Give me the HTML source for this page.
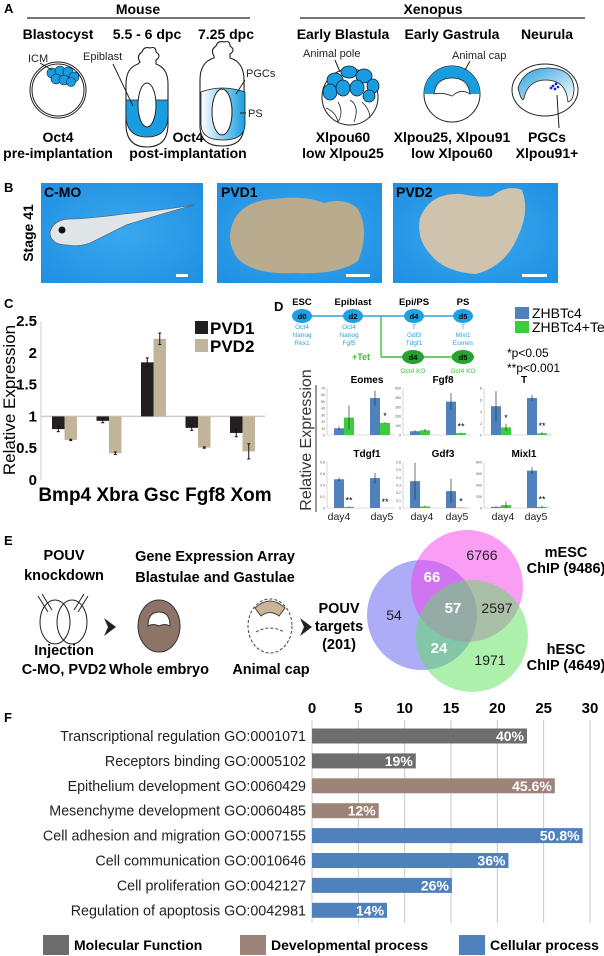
<!DOCTYPE html>
<html><head><meta charset="utf-8">
<style>
html,body{margin:0;padding:0;background:#fff;}
svg{display:block;font-family:"Liberation Sans",Arial,sans-serif;}
.b{font-weight:bold;}
</style></head>
<body>
<svg id="fig" width="604" height="956" viewBox="0 0 604 956" xmlns="http://www.w3.org/2000/svg">
<defs>
<linearGradient id="gPS" x1="0" y1="0" x2="1" y2="0"><stop offset="0" stop-color="#fff"/><stop offset="1" stop-color="#1a9de0"/></linearGradient>
<linearGradient id="gNeu" x1="0" y1="0" x2="1" y2="1"><stop offset="0" stop-color="#2aa0e0"/><stop offset="1" stop-color="#fff"/></linearGradient>
<radialGradient id="gPhoto" cx="0.5" cy="0.5" r="0.7"><stop offset="0" stop-color="#3aa8f0"/><stop offset="1" stop-color="#1f8fe0"/></radialGradient>
</defs>

<!-- Panel A -->
<g>
<text x="4" y="13" font-size="13" class="b">A</text>
<text x="138" y="14" font-size="14" class="b" text-anchor="middle">Mouse</text>
<line x1="27" y1="18" x2="250" y2="18" stroke="#222" stroke-width="1.2"/>
<text x="433" y="14" font-size="14" class="b" text-anchor="middle">Xenopus</text>
<line x1="300" y1="18" x2="585" y2="18" stroke="#222" stroke-width="1.2"/>
<g font-size="14" class="b" text-anchor="middle">
<text x="58" y="39">Blastocyst</text><text x="147" y="39">5.5 - 6 dpc</text><text x="226" y="39">7.25 dpc</text>
<text x="343" y="39">Early Blastula</text><text x="452" y="39">Early Gastrula</text><text x="547" y="39">Neurula</text>
<text x="58" y="142">Oct4</text><text x="58" y="158">pre-implantation</text>
<text x="188" y="142">Oct4</text><text x="188" y="158">post-implantation</text>
<text x="343" y="142">Xlpou60</text><text x="343" y="158">low Xlpou25</text>
<text x="452" y="142">Xlpou25, Xlpou91</text><text x="452" y="158">low Xlpou60</text>
<text x="547" y="142">PGCs</text><text x="547" y="158">Xlpou91+</text>
</g>
<g font-size="11" fill="#222">
<text x="28" y="62">ICM</text><text x="83" y="60">Epiblast</text><text x="246" y="77">PGCs</text><text x="248" y="117">PS</text>
<text x="303" y="57">Animal pole</text><text x="452" y="59">Animal cap</text>
</g>
<ellipse cx="58" cy="90" rx="28" ry="28" fill="none" stroke="#222" stroke-width="1"/>
<ellipse cx="58" cy="90" rx="26" ry="26" fill="#fff" stroke="#222" stroke-width="1"/>
<g fill="#1a9de0" stroke="#124" stroke-width="0.6">
<circle cx="52" cy="73" r="5"/><circle cx="60" cy="71" r="5"/><circle cx="68" cy="72" r="5"/><circle cx="74" cy="77" r="5"/><circle cx="56" cy="79" r="5"/><circle cx="64" cy="80" r="5"/><circle cx="71" cy="82" r="4.5"/>
</g>
<line x1="40" y1="63" x2="52" y2="70" stroke="#222"/>
<path d="M140,62 q-4,-6 2,-10 q2,-6 8,-4 q6,-2 6,4 q6,4 0,8 l0,4 q12,4 12,20 l0,40 q0,23 -21,23 q-21,0 -21,-23 l0,-40 q0,-16 12,-20 z" fill="#fff" stroke="#222" stroke-width="1.1"/>
<path d="M126,100 l42,0 l0,15 q0,22 -21,22 q-21,0 -21,-22 z" fill="#1a9de0" stroke="#222" stroke-width="0.8"/>
<ellipse cx="147" cy="105" rx="9" ry="22" fill="#fff" stroke="#222"/>
<line x1="113" y1="64" x2="133" y2="106" stroke="#222"/>
<path d="M214,56 q-4,-6 2,-10 q2,-6 8,-4 q6,-2 6,4 q6,4 0,8 l0,4 q14,4 14,22 l0,46 q0,20 -22,20 q-22,0 -22,-20 l0,-46 q0,-18 14,-22 z" fill="#fff" stroke="#222" stroke-width="1.1"/>
<path d="M201,92 q21,-8 44,0 l0,32 q0,16 -22,16 q-22,0 -22,-16 z" fill="url(#gPS)" stroke="#222" stroke-width="0.8"/>
<ellipse cx="222" cy="112" rx="10" ry="23" fill="#fff" stroke="#222"/>
<line x1="245" y1="80" x2="236" y2="94" stroke="#222"/><line x1="246" y1="113" x2="240" y2="113" stroke="#222"/>
<circle cx="350" cy="97" r="28" fill="#fff" stroke="#222"/>
<g fill="#1a9de0" stroke="#123" stroke-width="0.8">
<ellipse cx="335" cy="80" rx="8" ry="7"/><ellipse cx="349" cy="72" rx="8" ry="6"/><ellipse cx="364" cy="76" rx="8" ry="7"/><ellipse cx="373" cy="86" rx="6" ry="7"/>
<ellipse cx="330" cy="92" rx="7" ry="8"/><ellipse cx="343" cy="88" rx="7" ry="8"/><ellipse cx="357" cy="88" rx="7" ry="8"/><ellipse cx="369" cy="96" rx="6" ry="6"/>
</g>
<g fill="none" stroke="#222" stroke-width="0.8"><path d="M326,108 q10,4 12,14 M338,102 q6,10 0,20 M350,100 q10,6 4,22 M362,102 q8,8 8,16"/></g>
<line x1="335" y1="60" x2="340" y2="72" stroke="#222"/>
<circle cx="452" cy="94" r="28" fill="#fff" stroke="#222"/>
<path d="M424,94 a28,28 0 0 1 56,0 l-10,0 q-2,-12 -18,-14 q-16,2 -18,14 z" fill="#1a9de0"/>
<path d="M434,94 q2,-16 18,-16 q16,0 18,16 q-9,-6 -18,2 q-10,-4 -18,-2 z" fill="#fff" stroke="#222" stroke-width="0.8"/>
<line x1="470" y1="61" x2="465" y2="70" stroke="#222"/>
<ellipse cx="545" cy="90" rx="33" ry="26" fill="#fff" stroke="#222"/>
<path d="M518,88 q6,-20 30,-20 q24,0 26,20 q0,12 -6,14 q-2,-22 -22,-22 q-18,0 -22,18 q-2,6 -6,-10 z" fill="url(#gNeu)" stroke="#222" stroke-width="0.8"/>
<g fill="#0a2bd0"><circle cx="553" cy="86" r="1.4"/><circle cx="556" cy="84" r="1.4"/><circle cx="555" cy="89" r="1.4"/><circle cx="551" cy="88" r="1.4"/><circle cx="558" cy="87" r="1.3"/></g>
<line x1="557" y1="95" x2="559" y2="128" stroke="#222"/>
</g>

<!-- Panel B -->
<g>
<text x="4" y="192" font-size="13" class="b">B</text>
<text transform="translate(33,233) rotate(-90)" font-size="14" class="b" text-anchor="middle">Stage 41</text>
<rect x="41" y="183" width="162" height="100" fill="url(#gPhoto)"/>
<rect x="217" y="183" width="165" height="100" fill="url(#gPhoto)"/>
<rect x="393" y="183" width="165" height="100" fill="url(#gPhoto)"/>
<path d="M50,232 q4,-14 24,-13 q20,-1 50,-5 q40,-4 70,-9 q-30,8 -68,20 q-20,10 -36,18 q-12,4 -22,2 q-18,0 -18,-13 z" fill="#e0e6e8" stroke="#555" stroke-width="0.6"/>
<circle cx="62" cy="230" r="3.5" fill="#111"/>
<path d="M232,225 q8,-24 42,-26 q30,-4 50,4 q22,-6 34,6 q12,22 0,52 q-20,14 -62,12 q-42,2 -58,-14 q-12,-16 -6,-34 z" fill="#b9ab8e"/>
<path d="M420,218 q10,-26 42,-24 q18,4 30,2 q16,-12 30,-6 q8,22 -4,46 q-12,30 -42,38 q-32,-2 -46,-20 q-14,-16 -10,-36 z" fill="#cfc3ad"/>
<g font-size="14" class="b"><text x="44" y="197">C-MO</text><text x="221" y="197">PVD1</text><text x="396" y="197">PVD2</text></g>
<g fill="#fff"><rect x="176" y="274" width="12" height="3"/><rect x="346" y="274" width="24" height="3"/><rect x="522" y="274" width="25" height="3"/></g>
</g>

<!-- Panel C -->
<g id="panelC">
<text x="4" y="308" font-size="13" class="b">C</text>
<text transform="translate(15,400) rotate(-90)" font-size="17" text-anchor="middle">Relative Expression</text>
</g>

<!-- Panel D -->
<g id="panelD">
<text x="274" y="311" font-size="13" class="b">D</text>
<g font-size="9.5" class="b" text-anchor="middle"><text x="302" y="305">ESC</text><text x="353" y="305">Epiblast</text><text x="414" y="305">Epi/PS</text><text x="463" y="305">PS</text></g>
<line x1="302" y1="316" x2="455" y2="316" stroke="#29a3dd" stroke-width="1.6"/>
<polygon points="455,313 455,319 460,316" fill="#29a3dd"/>
<line x1="381" y1="316" x2="381" y2="357" stroke="#3ac13a" stroke-width="1.4"/>
<line x1="381" y1="357" x2="455" y2="357" stroke="#3ac13a" stroke-width="1.4"/>
<polygon points="452,354 452,360 458,357" fill="#3ac13a"/>
<g fill="#1fa0e0"><ellipse cx="302" cy="316" rx="10" ry="7"/><ellipse cx="353" cy="316" rx="10" ry="7"/><ellipse cx="414" cy="316" rx="10" ry="7"/><ellipse cx="463" cy="316" rx="10" ry="7"/></g>
<g fill="#27a12f"><ellipse cx="413" cy="357" rx="11" ry="7"/><ellipse cx="463" cy="357" rx="11" ry="7"/></g>
<g font-size="7.5" class="b" fill="#000" text-anchor="middle"><text x="302" y="319">d0</text><text x="353" y="319">d2</text><text x="414" y="319">d4</text><text x="463" y="319">d5</text><text x="413" y="360">d4</text><text x="463" y="360">d5</text></g>
<g font-size="6.5" fill="#29a3dd" text-anchor="middle">
<text x="302" y="329">Oct4</text><text x="302" y="337">Nanog</text><text x="302" y="345">Rex1</text>
<text x="349" y="329">Oct4</text><text x="349" y="337">Nanog</text><text x="349" y="345">Fgf5</text>
<text x="414" y="329">T</text><text x="414" y="337">Gdf3</text><text x="414" y="345">Tdgf1</text>
<text x="463" y="329">T</text><text x="463" y="337">Mixl1</text><text x="463" y="345">Eomes</text>
</g>
<text x="361" y="360" font-size="9" class="b" fill="#3ac13a" text-anchor="middle">+Tet</text>
<g font-size="6.5" fill="#3ac13a" text-anchor="middle"><text x="413" y="373">Oct4 KO</text><text x="463" y="373">Oct4 KO</text></g>
<rect x="515" y="307" width="14" height="12" fill="#4f81bd"/>
<text x="532" y="318" font-size="14">ZHBTc4</text>
<rect x="515" y="321" width="14" height="12" fill="#3ccc3c"/>
<text x="532" y="332" font-size="14">ZHBTc4+Tet</text>
<text x="507" y="357" font-size="12">*p&lt;0.05</text>
<text x="507" y="372" font-size="12">**p&lt;0.001</text>
<text transform="translate(311,440) rotate(-90)" font-size="16" fill="#333" text-anchor="middle">Relative Expression</text>
<line x1="316" y1="385" x2="316" y2="512" stroke="#333" stroke-width="1"/>
</g>

<!-- Panel E -->
<g>
<text x="4" y="545" font-size="13" class="b">E</text>
<g font-size="14.5" class="b" text-anchor="middle">
<text x="64" y="560">POUV</text><text x="64" y="580">knockdown</text>
<text x="215" y="561">Gene Expression Array</text><text x="215" y="582">Blastulae and Gastulae</text>
<text x="64" y="655">Injection</text><text x="64" y="674">C-MO, PVD2</text>
<text x="159" y="674">Whole embryo</text><text x="271" y="674">Animal cap</text>
<text x="339" y="613">POUV</text><text x="339" y="631">targets</text><text x="339" y="649">(201)</text>
<text x="566" y="557">mESC</text><text x="566" y="573">ChIP (9486)</text>
<text x="566" y="654">hESC</text><text x="566" y="670">ChIP (4649)</text>
</g>
<g fill="none" stroke="#222" stroke-width="1"><ellipse cx="55" cy="622" rx="15" ry="22"/><ellipse cx="72" cy="622" rx="15" ry="22"/>
<path d="M38,596 l10,16 M42,594 l10,16 M88,596 l-10,16 M84,594 l-10,16"/></g>
<polygon points="104,618 116,627 104,636 108,627" fill="#222"/>
<ellipse cx="159" cy="626" rx="21" ry="26" fill="#8c7567" stroke="#333"/>
<path d="M148,626 q0,-14 11,-14 q11,0 11,14 q-5,-3 -11,0 q-6,-3 -11,0 z" fill="#fff" stroke="#333"/>
<ellipse cx="270" cy="626" rx="22" ry="27" fill="none" stroke="#444" stroke-dasharray="3,2"/>
<path d="M255,608 q15,-14 30,0 l-6,8 q-9,-7 -18,0 z" fill="#c9b697" stroke="#444"/>
<path d="M256,632 q14,-8 28,0" fill="none" stroke="#444" stroke-dasharray="3,2"/>
<polygon points="300,618 312,627 300,636 304,627" fill="#222"/>
<g>
<circle cx="422" cy="615" r="55" fill="rgb(90,90,240)" fill-opacity="0.5"/>
<circle cx="467" cy="586" r="56" fill="rgb(245,60,235)" fill-opacity="0.5"/>
<circle cx="472" cy="636" r="56" fill="rgb(90,225,90)" fill-opacity="0.5"/>
<g font-size="14" text-anchor="middle" fill="#222">
<text x="482" y="560">6766</text><text x="497" y="613">2597</text><text x="394" y="620">54</text><text x="490" y="665">1971</text>
</g>
<g font-size="15" class="b" text-anchor="middle" fill="#fff"><text x="432" y="582">66</text><text x="453" y="613">57</text><text x="439" y="653">24</text></g>
</g>
</g>

<!-- Panel F -->
<g id="panelF">
<text x="4" y="722" font-size="13" class="b">F</text>
</g>

<script>
// ---------- Panel C data ----------
const cCategories = ['Bmp4','Xbra','Gsc','Fgf8','Xom'];
const cPVD1 = [0.80, 0.93, 1.85, 0.82, 0.74];
const cPVD2 = [0.63, 0.42, 2.22, 0.51, 0.45];
const cErr1 = [0.04, 0.03, 0.07, 0.04, 0.06];
const cErr2 = [0.01, 0.02, 0.09, 0.01, 0.12];
const cTicks = ['0','0.5','1','1.5','2','2.5'];

// ---------- Panel D data ----------
const dGenes = ['Eomes','Fgf8','T','Tdgf1','Gdf3','Mixl1'];
const dMax = [70, 500, 8, 0.8, 0.6, 800];
const dTickStep = [10, 100, 2, 0.2, 0.1, 200];
const dBlue = [[10,55],[40,355],[4.9,6.3],[0.50,0.52],[0.35,0.22],[20,650]];
const dBlueErr = [[3,11],[10,90],[2.6,0.5],[0.03,0.09],[0.24,0.16],[10,60]];
const dGreen = [[26,18],[50,20],[1.3,0.3],[0.02,0.0],[0.02,0.005],[50,20]];
const dGreenErr = [[18,1],[15,5],[0.6,0.2],[0.01,0.0],[0.01,0.003],[60,20]];
const dStars = [['','*'],['','**'],['*','**'],['**','**'],['','*'],['','**']];
const dDays = ['day4','day5'];

// ---------- Panel F data ----------
const fLabels = ['Transcriptional regulation GO:0001071','Receptors binding GO:0005102','Epithelium development GO:0060429','Mesenchyme development GO:0060485','Cell adhesion and migration GO:0007155','Cell communication GO:0010646','Cell proliferation GO:0042127','Regulation of apoptosis GO:0042981'];
const fValues = [23.2, 11.2, 26.2, 7.2, 29.2, 21.2, 15.1, 8.1];
const fPercents = ['40%','19%','45.6%','12%','50.8%','36%','26%','14%'];
const fGroups = [0,0,1,1,2,2,2,2];
const fGroupNames = ['Molecular Function','Developmental process','Cellular process'];
const fTicks = [0,5,10,15,20,25,30];

const NS='http://www.w3.org/2000/svg';
function mk(parent, tag, attrs, text){
  const e=document.createElementNS(NS,tag);
  for(const k in attrs) e.setAttribute(k,attrs[k]);
  if(text!==undefined) e.textContent=text;
  parent.appendChild(e); return e;
}

// ---- Panel C ----
(function(){
  const g=document.getElementById('panelC');
  const yC=v=>480-v*63.6;
  const x0=41, groupW=44.5, bw=12.5;
  mk(g,'line',{x1:x0,y1:yC(0),x2:x0,y2:yC(2.5),stroke:'#ccc','stroke-width':1});
  cTicks.forEach(t=>{
    const el=mk(g,'text',{x:x0-4,y:yC(+t)+5,'font-size':15,'font-weight':'bold','text-anchor':'end'},t);
    
    
  });
  mk(g,'line',{x1:x0,y1:yC(1),x2:265,y2:yC(1),stroke:'#ccc','stroke-width':1.5});
  cCategories.forEach((c,i)=>{
    const gx=52+i*groupW;
    [[cPVD1,cErr1,'#231f20',0],[cPVD2,cErr2,'#c2b49a',1]].forEach(([vals,errs,col,k])=>{
      const v=vals[i], x=gx+k*bw;
      const y1=Math.min(yC(v),yC(1)), h=Math.abs(yC(v)-yC(1));
      const r=mk(g,'rect',{x:x,y:y1,width:bw,height:h,fill:col});
      
      
      const cx=x+bw/2;
      mk(g,'line',{x1:cx,y1:yC(v-errs[i]),x2:cx,y2:yC(v+errs[i]),stroke:'#111','stroke-width':1});
      mk(g,'line',{x1:cx-1.5,y1:yC(v-errs[i]),x2:cx+1.5,y2:yC(v-errs[i]),stroke:'#111','stroke-width':1});
      mk(g,'line',{x1:cx-1.5,y1:yC(v+errs[i]),x2:cx+1.5,y2:yC(v+errs[i]),stroke:'#111','stroke-width':1});
    });
  });
  const cat=mk(g,'text',{x:155,y:501,'font-size':19,'font-weight':'bold','text-anchor':'middle'},cCategories.join(' '));
  
  
  const s1=mk(g,'rect',{x:195,y:321,width:13,height:13,fill:'#231f20'});
  
  
  const l1=mk(g,'text',{x:210,y:334,'font-size':17,'font-weight':'bold'},'PVD1');
  
  
  const s2=mk(g,'rect',{x:195,y:339,width:13,height:13,fill:'#c2b49a'});
  
  
  const l2=mk(g,'text',{x:210,y:352,'font-size':17,'font-weight':'bold'},'PVD2');
  
  
})();

// ---- Panel D ----
(function(){
  const g=document.getElementById('panelD');
  const colX=[327,403,484], rowBase=[435,508], rowTop=[388,462], axW=68, bw=10;
  dGenes.forEach((gene,gi)=>{
    const ax=colX[gi%3], base=rowBase[Math.floor(gi/3)], top=rowTop[Math.floor(gi/3)];
    const y=v=>base-(v/dMax[gi])*(base-top);
    const sub=mk(g,'g',{});
    
    
    mk(sub,'text',{x:ax+axW/2+6,y:top-5,'font-size':10,'font-weight':'bold','text-anchor':'middle'},gene);
    mk(sub,'line',{x1:ax,y1:base,x2:ax,y2:top,stroke:'#bbb','stroke-width':0.6});
    mk(sub,'line',{x1:ax,y1:base,x2:ax+axW,y2:base,stroke:'#bbb','stroke-width':0.6});
    for(let t=0;t<=dMax[gi]+1e-9;t+=dTickStep[gi]){
      const lab=Math.round(t*10)/10;
      mk(sub,'text',{x:ax-2,y:y(t)+1.5,'font-size':3.5,'text-anchor':'end',fill:'#555'},String(lab));
    }
    [0,1].forEach(d=>{
      const bx=ax+7+d*36;
      [[dBlue,dBlueErr,'#4f81bd',0],[dGreen,dGreenErr,'#3ccc3c',1]].forEach(([vals,errs,col,k])=>{
        const v=vals[gi][d], e=errs[gi][d], x=bx+k*bw;
        const r=mk(sub,'rect',{x:x,y:y(v),width:bw,height:base-y(v),fill:col});
        
        
        if(e>0){
          const cx=x+bw/2;
          mk(sub,'line',{x1:cx,y1:y(Math.max(0,v-e)),x2:cx,y2:y(v+e),stroke:'#333','stroke-width':0.7});
        }
      });
      const st=dStars[gi][d];
      if(st) mk(sub,'text',{x:bx+bw*1.5,y:y(dGreen[gi][d]+dGreenErr[gi][d])-3,'font-size':9,'text-anchor':'middle'},st);
    });
  });
  const dayX=[339,382,422,457,503,536];
  dayX.forEach((x,i)=>{
    const t=mk(g,'text',{x:x,y:520,'font-size':10.5,'text-anchor':'middle',fill:'#222'},dDays[i%2]);
    
    
  });
})();

// ---- Panel F ----
(function(){
  const g=document.getElementById('panelF');
  const x=v=>312+v*(590-312)/30;
  const rowY=i=>736+i*24.9;
  const cols=['#6d6d6d','#9c8478','#4f81bd'];
  fTicks.forEach(t=>{
    mk(g,'line',{x1:x(t),y1:720,x2:x(t),y2:923,stroke:'#c8c8c8','stroke-width':1});
    const tl=mk(g,'text',{x:x(t),y:713,'font-size':15,'font-weight':'bold','text-anchor':'middle'},String(t));
    
    
  });
  fLabels.forEach((lab,i)=>{
    const yc=rowY(i);
    const tl=mk(g,'text',{x:306,y:yc+5,'font-size':14.3,'text-anchor':'end',fill:'#222'},lab);
    
    
    const r=mk(g,'rect',{x:x(0),y:yc-7.5,width:x(fValues[i])-x(0),height:15,fill:cols[fGroups[i]]});
    
    
    mk(g,'text',{x:x(fValues[i])-3,y:yc+5,'font-size':14,'font-weight':'bold','text-anchor':'end',fill:'#fff'},fPercents[i]);
  });
  const legX=[43,240,459];
  fGroupNames.forEach((n,i)=>{
    const s=mk(g,'rect',{x:legX[i],y:935,width:26,height:20,fill:cols[i]});
    
    
    const t=mk(g,'text',{x:legX[i]+31,y:950,'font-size':14,'font-weight':'bold'},n);
    
    
  });
})();
</script>
</svg>
</body></html>
